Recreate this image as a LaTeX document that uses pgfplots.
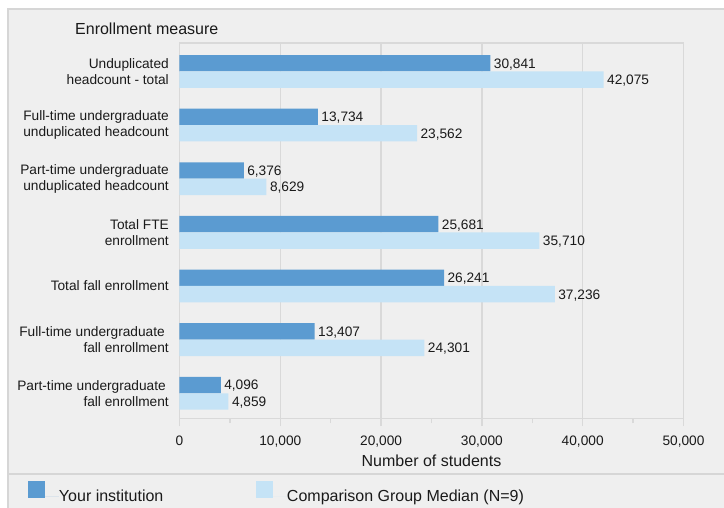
\documentclass[border=0pt]{standalone}
\usepackage{pgfplots}
\pgfplotsset{compat=1.18}
\usepackage{fontspec}
\setmainfont{Liberation Sans}

\definecolor{panel}{HTML}{EFEFEF}
\definecolor{rulec}{HTML}{D6D6D6}
\definecolor{gridc}{HTML}{D9D9D9}
\definecolor{yours}{HTML}{5B9BD1}
\definecolor{comp}{HTML}{C5E3F6}
\definecolor{txt}{HTML}{1A1A1A}

\newcommand\fs{\fontsize{13.7}{16}\selectfont}
\newcommand\fl{\fontsize{16}{19}\selectfont}

\begin{document}
\begin{tikzpicture}[x=1pt,y=1pt]
\useasboundingbox (0,0) rectangle (724,508);
\fill[white] (0,0) rectangle (724,508);
\fill[panel] (8,0) rectangle (724,499);
\draw[rulec, line width=1.5pt] (8,0) -- (8,499) -- (724,499);
\draw[rulec, line width=1.5pt] (8,34) -- (724,34);

\begin{axis}[
  at={(179.5pt,89.5pt)}, anchor=south west,
  scale only axis, width=504pt, height=375.5pt,
  xbar, bar width=16.4pt,
  xmin=0, xmax=50000, ymin=-0.47, ymax=6.53,
  clip=false,
  /pgf/number format/.cd, fixed, precision=0, 1000 sep={,}, assume math mode=true,
  /pgfplots/.cd,
  scaled x ticks=false,
  xtick={0,10000,...,50000}, minor x tick num=1,
  xtick pos=left, tick align=outside,
  major tick length=8pt, minor tick length=5pt,
  xtick style={gridc, line width=1.3pt},
  ytick={0,...,6}, ytick style={draw=none},
  yticklabels={
    {Part-time undergraduate\hspace*{3pt}\\fall enrollment},
    {Full-time undergraduate\hspace*{4pt}\\fall enrollment},
    {Total fall enrollment},
    {Total FTE\\enrollment},
    {Part-time undergraduate\\unduplicated headcount},
    {Full-time undergraduate\\unduplicated headcount},
    {Unduplicated\\headcount - total}},
  yticklabel style={anchor=east, inner sep=0pt, xshift=-2.5pt, align=right, font=\fs, text=txt},
  xticklabel style={anchor=base, inner sep=0pt, yshift=-19.5pt, font=\fs, text=txt},
  xmajorgrids, major x grid style={gridc, line width=1.5pt},
  axis line style={gridc, line width=1.5pt},
  ylabel={Enrollment measure},
  every axis y label/.style={at={(axis description cs:0,1)}, anchor=base west,
    xshift=-104.5pt, yshift=8.7pt, font=\fl, inner sep=0pt, text=txt},
  xlabel={Number of students},
  every axis x label/.style={at={(axis description cs:0.5,0)}, anchor=base,
    yshift=-48.5pt, font=\fl, inner sep=0pt, text=txt},
  nodes near coords,
  nodes near coords style={font=\fs, text=txt, yshift=-1pt},
  legend columns=2,
  legend style={at={(0,0)}, anchor=west, xshift=-151.5pt, yshift=-73.5pt,
    draw=none, fill=none, inner sep=0pt, outer sep=0pt, column sep=0pt,
    font=\fl, nodes={inner sep=0pt, text=txt}},
]

\addplot[fill=yours, draw=none, bar shift=8.2pt,
  legend image code/.code={\fill[yours] (0pt,-1.5pt) rectangle (17pt,15.5pt); \path (0pt,0pt) -- (31pt,0pt);}]
  coordinates {
  (30841,6) (13734,5) (6376,4) (25681,3) (26241,2) (13407,1) (4096,0)
};
\addlegendentry{\makebox[197pt][l]{Your institution}}

\addplot[fill=comp, draw=none, bar shift=-8.2pt,
  legend image code/.code={\fill[comp] (0pt,-1.5pt) rectangle (17pt,15.5pt); \path (0pt,0pt) -- (31pt,0pt);}]
  coordinates {
  (42075,6) (23562,5) (8629,4) (35710,3) (37236,2) (24301,1) (4859,0)
};
\addlegendentry{Comparison Group Median (N=9)}

\end{axis}
\end{tikzpicture}
\end{document}
